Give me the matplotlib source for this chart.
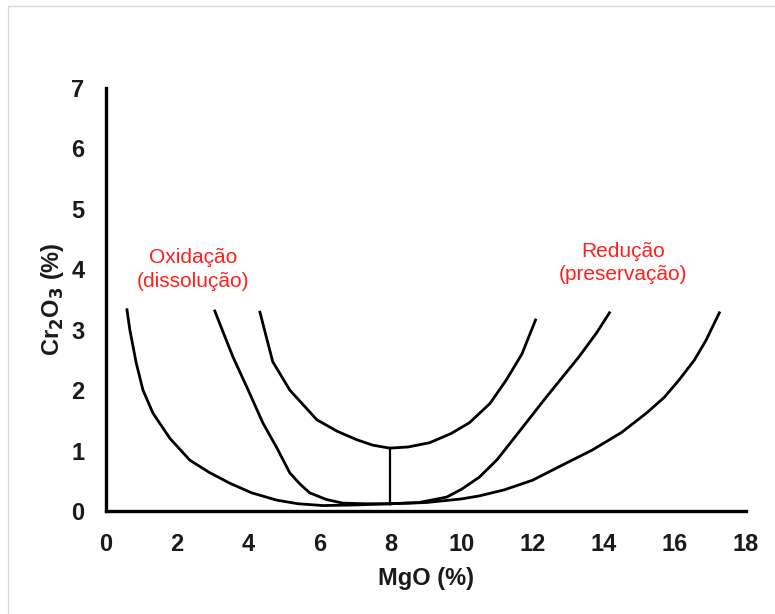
import matplotlib.pyplot as plt
import matplotlib.patches as mpatches

plt.rcParams['font.family'] = ['Liberation Sans', 'DejaVu Sans']

# curves (MgO %, Cr2O3 %)
c1_x = [0.59, 0.67, 0.85, 1.04, 1.32, 1.8, 2.36, 2.9, 3.48, 4.1, 4.8, 5.4, 6.1, 7.0, 8.0]
c1_y = [3.33, 3.0, 2.45, 2.0, 1.62, 1.2, 0.84, 0.64, 0.46, 0.3, 0.18, 0.12, 0.09, 0.1, 0.12]

c2_x = [3.06, 3.3, 3.57, 4.0, 4.41, 4.8, 5.17, 5.45, 5.73, 6.2, 6.66, 7.3, 8.0]
c2_y = [3.31, 2.95, 2.55, 2.0, 1.46, 1.05, 0.63, 0.45, 0.3, 0.19, 0.13, 0.12, 0.12]

c3_x = [4.33, 4.5, 4.69, 5.17, 5.93, 6.5, 7.05, 7.5, 7.98, 8.5, 9.1, 9.7, 10.22, 10.8, 11.26, 11.7, 12.08]
c3_y = [3.29, 2.9, 2.47, 2.0, 1.51, 1.32, 1.18, 1.09, 1.04, 1.06, 1.13, 1.28, 1.46, 1.78, 2.17, 2.6, 3.16]

c4_x = [8.0, 8.8, 9.58, 10.0, 10.5, 11.0, 11.43, 12.39, 13.3, 13.8, 14.16]
c4_y = [0.12, 0.14, 0.23, 0.36, 0.56, 0.85, 1.17, 1.89, 2.55, 2.95, 3.28]

c5_x = [8.0, 9.0, 10.0, 10.5, 11.2, 12.0, 12.8, 13.68, 14.5, 15.2, 15.7, 16.12, 16.55, 16.88, 17.25]
c5_y = [0.12, 0.14, 0.2, 0.25, 0.35, 0.51, 0.75, 1.01, 1.3, 1.62, 1.88, 2.17, 2.5, 2.83, 3.28]

stem_x = [8.0, 8.0]
stem_y = [0.12, 1.04]

xticks = [0, 2, 4, 6, 8, 10, 12, 14, 16, 18]
yticks = [0, 1, 2, 3, 4, 5, 6, 7]

fig = plt.figure(figsize=(7.75, 6.14), dpi=100)
# light grey frame around the picture
fig.patches.append(mpatches.Rectangle((8 / 775, -0.05), 1.1, 1 - 6 / 614 + 0.05,
                                      transform=fig.transFigure, fill=False,
                                      edgecolor='#d8d8d8', linewidth=1.0))
ax = fig.add_axes([106 / 775, 1 - 511 / 614, 640 / 775, 423 / 614])

for cx, cy in [(c1_x, c1_y), (c2_x, c2_y), (c3_x, c3_y), (c4_x, c4_y), (c5_x, c5_y)]:
    ax.plot(cx, cy, color='black', linewidth=2.0, solid_joinstyle='round')
ax.plot(stem_x, stem_y, color='black', linewidth=1.6)

ax.set_xlim(0, 18)
ax.set_ylim(0, 7)
ax.set_xticks(xticks)
ax.set_yticks(yticks)
ax.tick_params(axis='x', length=0, labelsize=17, pad=15.5)
ax.tick_params(axis='y', length=0, labelsize=17, pad=15.5)
for lab in ax.get_xticklabels() + ax.get_yticklabels():
    lab.set_fontweight('bold')
    lab.set_color('#1a1a1a')
ax.spines['top'].set_visible(False)
ax.spines['right'].set_visible(False)
ax.spines['left'].set_linewidth(2.4)
ax.spines['bottom'].set_linewidth(2.4)

ax.set_xlabel('MgO (%)', fontsize=17, fontweight='bold', labelpad=8, color='#1a1a1a')
ax.set_ylabel('Cr$_\\mathbf{2}$O$_\\mathbf{3}$ (%)', fontsize=17, fontweight='bold',
              labelpad=4, color='#1a1a1a')

ax.text(2.44, 4.0, 'Oxidação\n(dissolução)', color='#ff2020', fontsize=15,
        ha='center', va='center', linespacing=1.3)
ax.text(14.55, 4.1, 'Redução\n(preservação)', color='#ff2020', fontsize=15,
        ha='center', va='center', linespacing=1.3)

fig.savefig('out.png', dpi=100)
